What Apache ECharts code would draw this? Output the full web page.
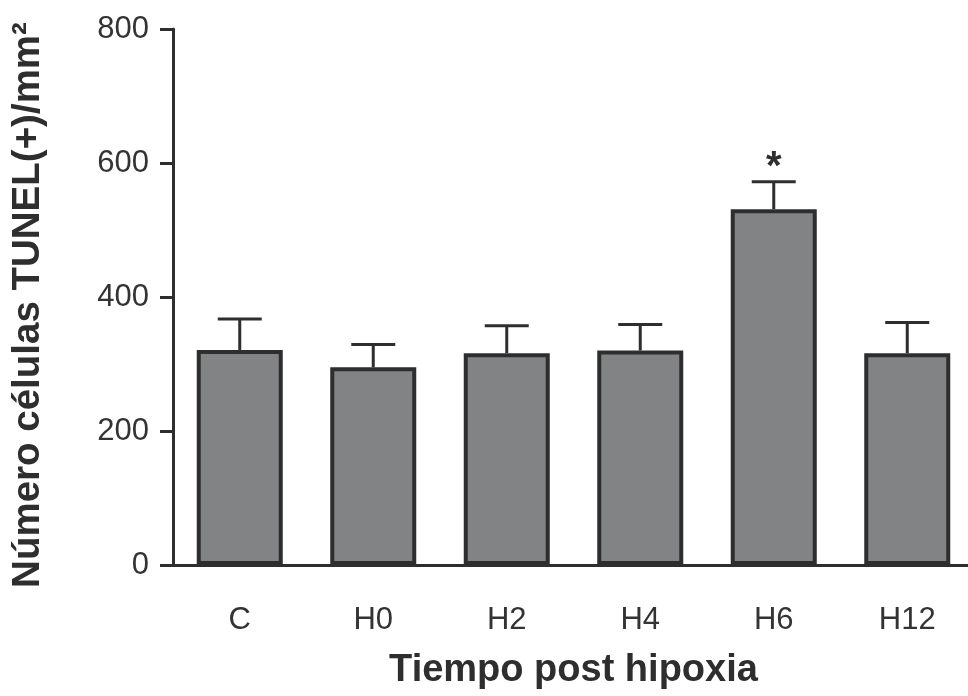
<!DOCTYPE html>
<html>
<head>
<meta charset="utf-8">
<script src="https://cdn.jsdelivr.net/npm/echarts@6/dist/echarts.min.js"></script>
<style>
  html, body { margin: 0; padding: 0; background: #fff; }
  #chart { width: 968px; height: 696px; }
</style>
</head>
<body>
<div id="chart"></div>
<script>
// grupos y valores (media + error)
const groups = ["C", "H0", "H2", "H4", "H6", "H12"];
const means = [321, 295, 316, 320, 531, 316];
const errors = [46, 34, 41, 39, 41, 46];
const marks = ["", "", "", "", "*", ""];
const yTicks = [0, 200, 400, 600, 800];

const font = "'Liberation Sans', Arial, Helvetica, sans-serif";
const ink = "#2e2e2e";

const chart = echarts.init(document.getElementById("chart"));

// media, limite superior, marca
const errData = groups.map((g, i) => [i, means[i], means[i] + errors[i], marks[i]]);

const option = {
  backgroundColor: "#fff",
  animation: false,
  grid: { left: 173, top: 29, width: 801, bottom: 131, outerBoundsMode: "none" },
  xAxis: {
    type: "category",
    data: groups,
    name: "Tiempo post hipoxia",
    nameLocation: "middle",
    nameGap: 87,
    nameTextStyle: { fontFamily: font, fontSize: 38, fontWeight: "bold", color: ink },
    axisLine: { lineStyle: { color: ink, width: 3 } },
    axisTick: { alignWithLabel: true, length: 14, lineStyle: { color: ink, width: 3 } },
    axisLabel: { margin: 40, fontFamily: font, fontSize: 31, color: "#333" },
  },
  yAxis: {
    type: "value",
    min: yTicks[0],
    max: yTicks[yTicks.length - 1],
    interval: 200,
    name: "Número células TUNEL(+)/mm²",
    nameLocation: "middle",
    nameGap: 125,
    nameTextStyle: {
      fontFamily: font, fontSize: 38.5, fontWeight: "bold", color: ink,
      padding: [0, 16, 0, 0],
    },
    axisLine: { show: true, lineStyle: { color: ink, width: 3 } },
    axisTick: { show: true, length: 13, lineStyle: { color: ink, width: 3 } },
    axisLabel: { margin: 24, fontFamily: font, fontSize: 31, color: "#333" },
    splitLine: { show: false },
  },
  series: [
    {
      type: "custom",
      z: 1,
      data: errData,
      renderItem: function (params, api) {
        const x = api.value(0);
        const top = api.coord([x, api.value(1)]);
        const hi = api.coord([x, api.value(2)]);
        const half = 22;
        const stroke = { stroke: ink, lineWidth: 3 };
        const children = [
          { type: "line", shape: { x1: top[0], y1: top[1], x2: hi[0], y2: hi[1] }, style: stroke },
          { type: "line", shape: { x1: hi[0] - half, y1: hi[1], x2: hi[0] + half, y2: hi[1] }, style: stroke },
        ];
        const mark = errData[params.dataIndex][3];
        if (mark) {
          children.push({
            type: "text",
            style: {
              text: mark, x: hi[0], y: hi[1] - 14,
              fill: ink, font: "bold 40px " + font,
              textAlign: "center", textVerticalAlign: "middle",
            },
          });
        }
        return { type: "group", children: children };
      },
    },
    {
      type: "bar",
      z: 2,
      data: means,
      barWidth: 86,
      itemStyle: { color: "#828385", borderColor: ink, borderWidth: 4 },
    },
  ],
};

chart.setOption(option);
</script>
</body>
</html>
